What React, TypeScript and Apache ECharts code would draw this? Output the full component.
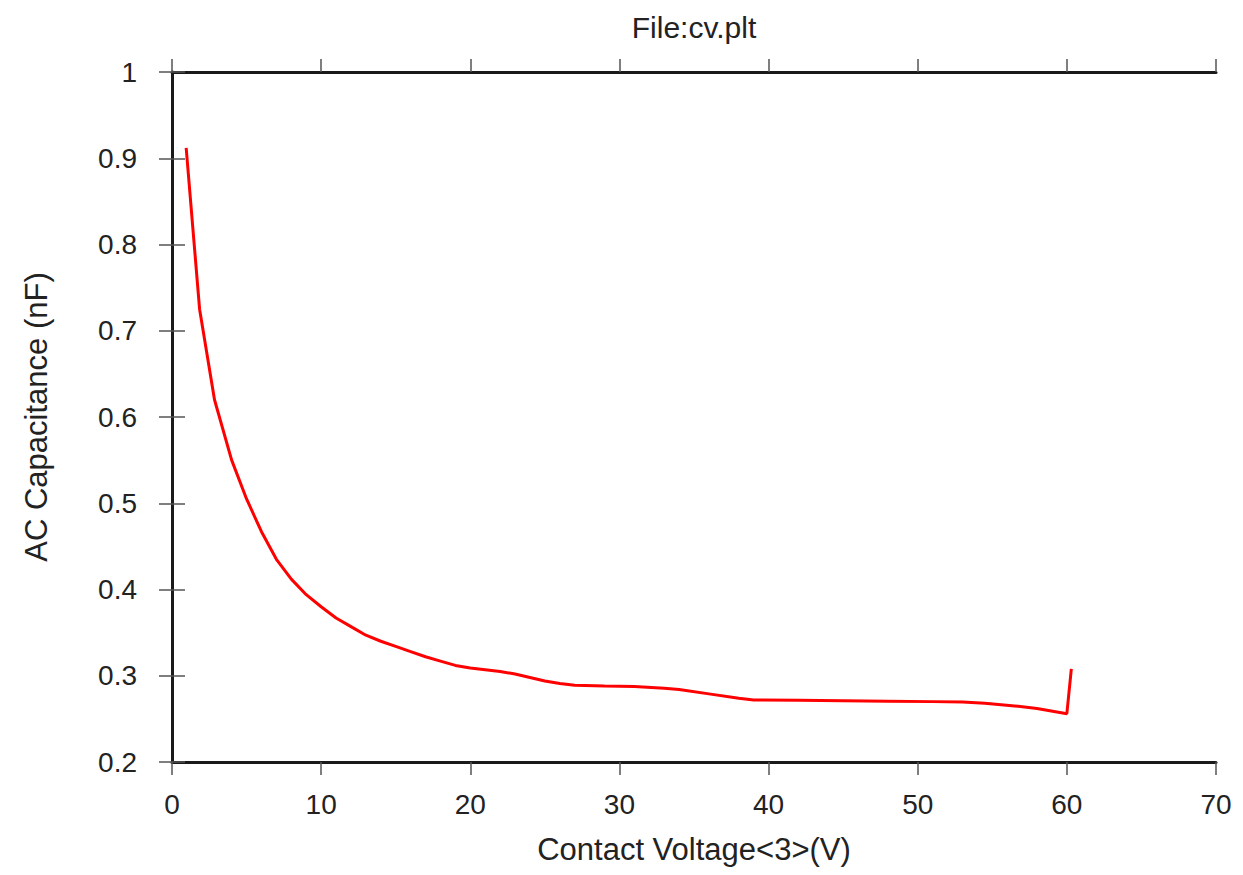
import React, { useEffect, useRef } from "react";
import * as echarts from "echarts";

const titleText = "File:cv.plt";
const xAxisName = "Contact Voltage<3>(V)";
const yAxisName = "AC Capacitance (nF)";

// Contact voltage (V)
const voltage = [
  0.95, 1.85, 2.85, 4, 5, 6, 7, 8, 9, 10, 11, 12, 13, 14, 15, 16, 17, 18, 19, 20,
  21, 22, 23, 24, 25, 26, 27, 29, 31, 33, 34, 36, 38, 39, 42, 45, 48, 51, 53, 54.5,
  56.5, 58, 60, 60.3,
];
// AC capacitance (nF)
const capacitance = [
  0.912, 0.725, 0.62, 0.55, 0.505, 0.467, 0.435, 0.412, 0.394, 0.38, 0.367, 0.357,
  0.347, 0.34, 0.334, 0.328, 0.322, 0.317, 0.312, 0.309, 0.307, 0.305, 0.302, 0.298,
  0.294, 0.291, 0.289, 0.288, 0.2875, 0.2855, 0.284, 0.279, 0.274, 0.272, 0.2715,
  0.271, 0.2705, 0.27, 0.2695, 0.268, 0.265, 0.262, 0.256, 0.308,
];

const FONT = "'Liberation Sans', Arial, Helvetica, sans-serif";

export default function App() {
  const ref = useRef<HTMLDivElement>(null);
  useEffect(() => {
    if (!ref.current) return;
    const chart = echarts.init(ref.current, undefined, { renderer: "svg" });
    const frame = { show: true, lineStyle: { color: "#1a1a1a", width: 3 } };
    const tick = {
      show: true,
      inside: false,
      length: 13,
      lineStyle: { color: "#555", width: 1.5 },
    };
    const data = voltage.map((v, i) => [v, capacitance[i]]);
    chart.setOption({
      animation: false,
      backgroundColor: "#ffffff",
      title: {
        text: titleText,
        left: 694,
        textAlign: "center",
        top: 12,
        padding: 0,
        textStyle: { fontFamily: FONT, fontSize: 30, fontWeight: "normal", color: "#222" },
      },
      grid: { left: 172, right: 27, top: 72, bottom: 113, containLabel: false },
      xAxis: [
        {
          type: "value",
          position: "bottom",
          min: 0,
          max: 70,
          interval: 10,
          name: xAxisName,
          nameLocation: "middle",
          nameGap: 72,
          nameTextStyle: { fontFamily: FONT, fontSize: 31, color: "#222" },
          axisLine: frame,
          axisTick: tick,
          axisLabel: { margin: 28, fontFamily: FONT, fontSize: 28, color: "#222" },
          splitLine: { show: false },
        },
        {
          type: "value",
          position: "top",
          min: 0,
          max: 70,
          interval: 10,
          axisLine: frame,
          axisTick: tick,
          axisLabel: { show: false },
          splitLine: { show: false },
        },
      ],
      yAxis: [
        {
          type: "value",
          position: "left",
          min: 0.2,
          max: 1,
          interval: 0.1,
          name: yAxisName,
          nameLocation: "middle",
          nameGap: 120,
          nameTextStyle: { fontFamily: FONT, fontSize: 31, color: "#222" },
          axisLine: frame,
          axisTick: tick,
          axisLabel: {
            margin: 35,
            fontFamily: FONT,
            fontSize: 28,
            color: "#222",
            formatter: (v: number) => String(Math.round(v * 10) / 10),
          },
          splitLine: { show: false },
        },
        {
          type: "value",
          position: "right",
          min: 0.2,
          max: 1,
          interval: 0.1,
          axisLine: frame,
          axisTick: tick,
          axisLabel: { show: false },
          splitLine: { show: false },
        },
      ],
      series: [
        {
          type: "line",
          data,
          xAxisIndex: 0,
          yAxisIndex: 0,
          showSymbol: false,
          smooth: false,
          lineStyle: { color: "#ff0000", width: 3 },
          itemStyle: { color: "#ff0000" },
        },
      ],
    });
    return () => chart.dispose();
  }, []);
  return <div ref={ref} style={{ width: 1243, height: 875, margin: -8 }} />;
}
